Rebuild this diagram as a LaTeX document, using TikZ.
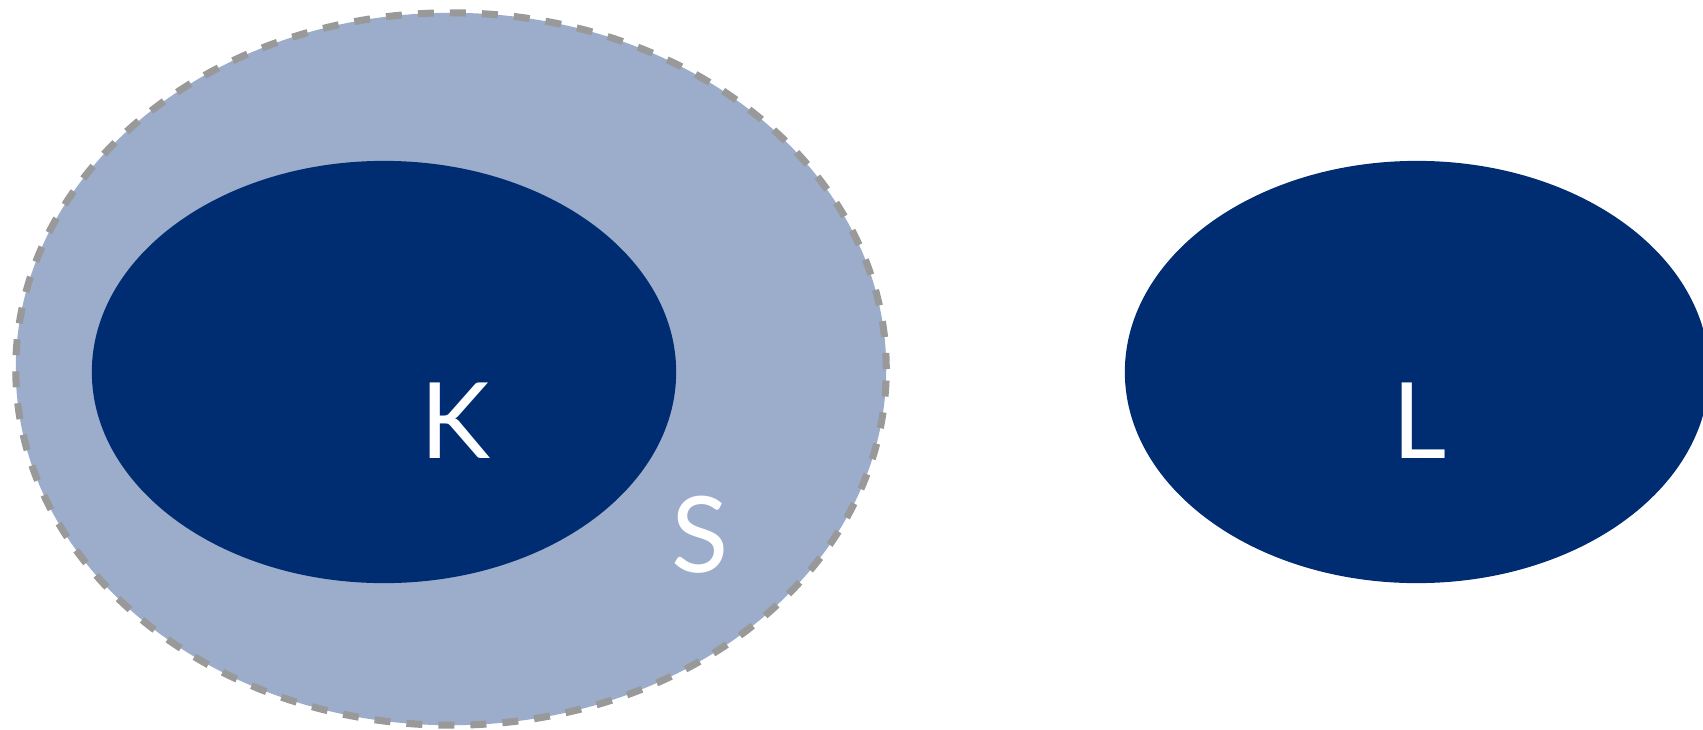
\documentclass[tikz,border=0pt]{standalone}
\usepackage{fontspec}
\setmainfont{Lato}
\usepackage{tikz}
\usetikzlibrary{shapes.geometric}
\definecolor{navy}{RGB}{0,45,114}
\definecolor{paleblue}{RGB}{155,173,202}
\definecolor{dashgray}{RGB}{153,153,153}
\tikzset{
  setblob/.style={ellipse, inner sep=0pt, fill=navy,
                  minimum width=5.84cm, minimum height=4.22cm},
  outerset/.style={ellipse, inner sep=0pt, fill=paleblue, draw=dashgray,
                   line width=2pt, dash pattern=on 0.16cm off 0.16cm,
                   minimum width=8.70cm, minimum height=7.12cm},
  lbl/.style={text=white, font=\fontsize{30}{30}\selectfont, inner sep=0pt},
}

\begin{document}
\begin{tikzpicture}[x=0.01cm, y=0.01cm]
  \useasboundingbox (0,0) rectangle (1703,729);
  \node[outerset] (S) at (451,360) {};
  \node[setblob] (K) at (384,357) {};
  \node[setblob] (L) at (1417,357) {};
  \node[lbl] (Klbl) at (455,308) {K};
  \node[lbl] (Llbl) at (1420,308) {L};
  \node[lbl] (Slbl) at (700,194) {S};
\end{tikzpicture}
\end{document}
